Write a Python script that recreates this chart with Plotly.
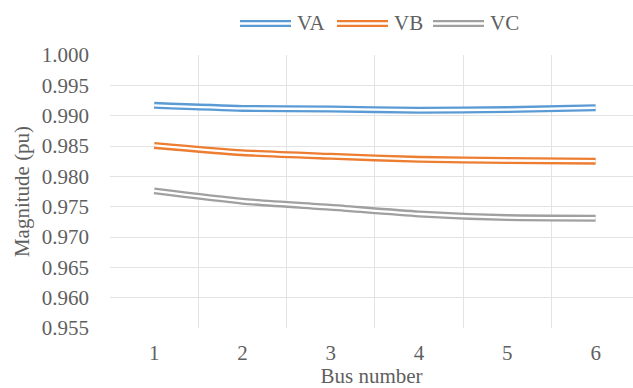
import plotly.graph_objects as go

# Bus voltage magnitudes per phase
buses = [1, 2, 3, 4, 5, 6]
va = [0.9917, 0.9912, 0.9911, 0.9909, 0.9910, 0.9913]
vb = [0.9851, 0.9839, 0.9833, 0.9828, 0.9826, 0.9825]
vc = [0.9776, 0.9759, 0.9749, 0.9738, 0.9732, 0.9731]
series_names = ["VA", "VB", "VC"]
colors = ["#5b9bd5", "#ed7d31", "#a0a0a0"]
y_ticks = [0.955, 0.960, 0.965, 0.970, 0.975, 0.980, 0.985, 0.990, 0.995, 1.000]

FONT = "Liberation Serif"
TXT = "#5f5f5f"

fig = go.Figure()

# each phase drawn as a double line: thick coloured stroke with a thin white core
for name, vals, col in zip(series_names, [va, vb, vc], colors):
    fig.add_trace(go.Scatter(x=buses, y=vals, mode="lines", name=name,
                             line=dict(color=col, width=7, shape="spline", smoothing=0.6),
                             showlegend=False, hoverinfo="skip"))
    fig.add_trace(go.Scatter(x=buses, y=vals, mode="lines", name=name,
                             line=dict(color="white", width=2.4, shape="spline", smoothing=0.6),
                             showlegend=False))

# legend row above the plot, built from shapes and text
W, H = 633, 388
L, R, T, B = 110, 0, 55, 60
pw, ph = W - L - R, H - T - B


def px_x(x):
    return (x - L) / pw


def px_y(y):
    return (H - B - y) / ph


legend_x = [240, 337, 433]
for x0, name, col in zip(legend_x, series_names, colors):
    fig.add_shape(type="line", xref="paper", yref="paper",
                  x0=px_x(x0), x1=px_x(x0 + 51), y0=px_y(23.5), y1=px_y(23.5),
                  line=dict(color=col, width=7))
    fig.add_shape(type="line", xref="paper", yref="paper",
                  x0=px_x(x0 - 1), x1=px_x(x0 + 52), y0=px_y(23.5), y1=px_y(23.5),
                  line=dict(color="white", width=2.4))
    fig.add_annotation(x=px_x(x0 + 55), y=px_y(23.5), xref="paper", yref="paper",
                       text=name, showarrow=False, xanchor="left", yanchor="middle",
                       font=dict(family=FONT, size=21, color=TXT))

fig.update_layout(
    width=W, height=H,
    margin=dict(l=L, r=R, t=T, b=B),
    paper_bgcolor="white", plot_bgcolor="white",
    font=dict(family=FONT, size=21, color=TXT),
    showlegend=False,
    xaxis=dict(
        range=[0.5, 0.5 + pw / 88.3],
        tickvals=buses, ticktext=[str(b) for b in buses],
        showgrid=False, zeroline=False, showline=False, ticks="",
        minor=dict(tick0=0.5, dtick=1, showgrid=True, gridcolor="#e3e3e3", gridwidth=1),
        ticklabelstandoff=10,
        title=dict(text="Bus number", standoff=8, font=dict(family=FONT, size=21, color=TXT)),
        tickfont=dict(family=FONT, size=21, color=TXT),
    ),
    yaxis=dict(
        range=[0.955, 1.000],
        tickvals=y_ticks, ticktext=[f"{v:.3f}" for v in y_ticks],
        showgrid=True, gridcolor="#e3e3e3", gridwidth=1,
        zeroline=False, showline=False, ticks="",
        ticklabelstandoff=20,
        title=dict(text="Magnitude (pu)", standoff=6, font=dict(family=FONT, size=21, color=TXT)),
        tickfont=dict(family=FONT, size=21, color=TXT),
    ),
)

fig.write_html("out.html")
